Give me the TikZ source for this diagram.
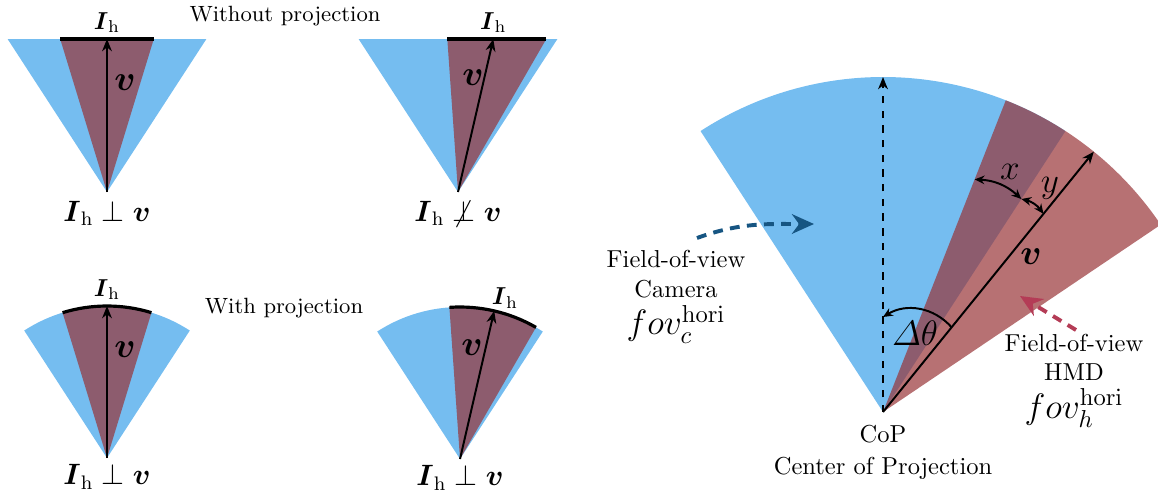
\documentclass[tikz,border=0pt]{standalone}
\usepackage{amsmath}
\usepackage{amssymb}
\usetikzlibrary{arrows.meta,positioning,calc}
\definecolor{camblue}{RGB}{117,189,240}
\definecolor{hmdred}{RGB}{152,52,56}
\definecolor{camarrow}{RGB}{22,85,130}
\definecolor{hmdarrow}{RGB}{180,60,86}

\begin{document}
\begin{tikzpicture}[x=0.408pt,y=0.408pt,
  cam/.style={fill=camblue},
  hmd/.style={fill=hmdred,fill opacity=0.7},
  img/.style={line width=1.3pt},
  vec/.style={line width=0.8pt,-{Stealth[length=5pt,width=4pt]}},
  ang/.style={line width=0.8pt,-{Stealth[length=4pt,width=3.5pt]}},
  dbl/.style={line width=0.8pt,{Stealth[length=4pt,width=3.5pt]}-{Stealth[length=4pt,width=3.5pt]}},
  hint/.style={line width=1.6pt,dash pattern=on 4pt off 3pt,-{Stealth[length=9pt,width=8pt]}},
  lbl/.style={font=\large},
  big/.style={font=\Large}]
\useasboundingbox (0,0) rectangle (1158,-495);

% --- without projection
\coordinate (a1) at (107,-192);
\coordinate (a2) at (458,-192);
\fill[cam] (a1) -- ++(-99.4,153) -- ++(198.8,0) -- cycle;
\fill[hmd] (a1) -- ++(-46.8,153) -- ++(93.6,0) -- cycle;
\draw[img] ($(a1)+(-46.8,153)$) -- ++(93.6,0);
\coordinate (t1) at ($(a1)+(0,153)$);
\draw[vec] (a1) -- (t1);
\node[above=-1pt of t1] (ih1) {$\boldsymbol{I}_\mathrm{h}$};
\node[big] (v1) at (125,-83) {$\boldsymbol{v}$};
\node[lbl,below=0pt of a1] (c1) {$\boldsymbol{I}_\mathrm{h}\perp\boldsymbol{v}$};

\fill[cam] (a2) -- ++(-99.4,153) -- ++(198.8,0) -- cycle;
\fill[hmd] (a2) -- ++(-10.7,153) -- ++(99,0) -- cycle;
\draw[img] ($(a2)+(-10.7,153)$) -- ++(99,0);
\coordinate (t2) at ($(a2)+(35.3,153)$);
\draw[vec] (a2) -- (t2);
\node[above=-1pt of t2] (ih2) {$\boldsymbol{I}_\mathrm{h}$};
\node[big] (v2) at (473,-78) {$\boldsymbol{v}$};
\node[lbl,below=0pt of a2] (c2) {$\boldsymbol{I}_\mathrm{h}\not\perp\boldsymbol{v}$};

\node[font=\small] (wo) at (285,-16) {Without projection};

% --- with projection
\coordinate (a3) at (107,-458);
\coordinate (a4) at (460,-459);
\fill[cam] (a3) -- ++(57:152) arc[start angle=57,end angle=123,radius=152] -- cycle;
\fill[hmd] (a3) -- ++(73:152) arc[start angle=73,end angle=107,radius=152] -- cycle;
\draw[img] ($(a3)+(73:152)$) arc[start angle=73,end angle=107,radius=152];
\coordinate (t3) at ($(a3)+(90:152)$);
\draw[vec] (a3) -- (t3);
\node[above=-1pt of t3] (ih3) {$\boldsymbol{I}_\mathrm{h}$};
\node[big] (v3) at (125,-350) {$\boldsymbol{v}$};
\node[lbl,below=-1pt of a3] (c3) {$\boldsymbol{I}_\mathrm{h}\perp\boldsymbol{v}$};

\fill[cam] (a4) -- ++(57:152) arc[start angle=57,end angle=123,radius=152] -- cycle;
\fill[hmd] (a4) -- ++(60:152) arc[start angle=60,end angle=94,radius=152] -- cycle;
\draw[img] ($(a4)+(60:152)$) arc[start angle=60,end angle=94,radius=152];
\coordinate (t4) at ($(a4)+(77:152)$);
\draw[vec] (a4) -- (t4);
\node (ih4) at (505,-298) {$\boldsymbol{I}_\mathrm{h}$};
\node[big] (v4) at (472,-348) {$\boldsymbol{v}$};
\node[lbl,below=-1pt of a4] (c4) {$\boldsymbol{I}_\mathrm{h}\perp\boldsymbol{v}$};

\node[font=\small] (wp) at (284,-308) {With projection};

% --- camera vs. HMD field of view
\coordinate (cop) at (883,-412);
\fill[cam] (cop) -- ++(57:335) arc[start angle=57,end angle=123,radius=335] -- cycle;
\fill[hmd] (cop) -- ++(34:335) arc[start angle=34,end angle=68.5,radius=335] -- cycle;
\coordinate (top) at ($(cop)+(90:335)$);
\coordinate (vend) at ($(cop)+(51:335)$);
\draw[vec,dashed] (cop) -- (top);
\draw[vec] (cop) -- (vend);
\coordinate (d1) at ($(cop)+(51:109)$);
\coordinate (d2) at ($(cop)+(90:95)$);
\draw[ang] (d1) to[bend right=40] (d2);
\coordinate (x1) at ($(cop)+(68.5:250)$);
\coordinate (x2) at ($(cop)+(57:254)$);
\coordinate (y2) at ($(cop)+(51:255)$);
\draw[dbl] (x1) to[bend left=20] (x2);
\draw[dbl] (x2) to[bend left=20] (y2);
\node[big] (dth) at (915,-333) {$\varDelta\theta$};
\node[big] (xl) at (1010,-172) {$x$};
\node[big] (yl) at (1050,-188) {$y$};
\node[big] (vl) at (1031,-257) {$\boldsymbol{v}$};

\node[below=2pt of cop,align=center] (coptxt) {CoP\\[1pt]Center of Projection};
\node[align=center] (camtxt) at (676,-297) {Field-of-view\\Camera\\[2pt]{\Large$fov_c^{\mathrm{hori}}$}};
\node[align=center] (hmdtxt) at (1074,-381) {Field-of-view\\HMD\\[2pt]{\Large$fov_h^{\mathrm{hori}}$}};

\coordinate (cs) at (697,-238);
\coordinate (ce) at (814,-224);
\draw[hint,camarrow] (cs) to[out=20,in=180] (ce);
\coordinate (hs) at (1076,-330);
\coordinate (he) at (1020,-296);
\draw[hint,hmdarrow] (hs) -- (he);
\end{tikzpicture}
\end{document}
